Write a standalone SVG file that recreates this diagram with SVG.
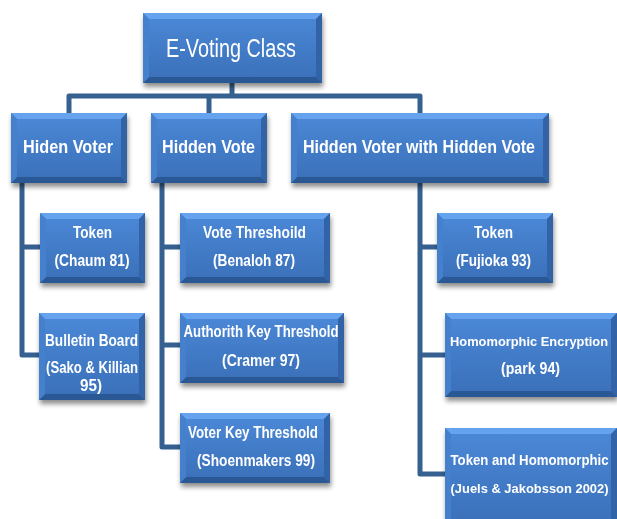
<svg xmlns="http://www.w3.org/2000/svg" width="617" height="519" viewBox="0 0 617 519">
<style>
.face{fill:url(#faceg)}
.bt{fill:#66A3EE}
.bb{fill:#2B5895}
.bl{fill:#4480CC}
.br{fill:#3263A6}
.box{filter:url(#sh)}
.t1{font-family:"Liberation Sans",Arial,sans-serif;font-size:26px;fill:#fff;text-anchor:middle}
.t2{font-family:"Liberation Sans",Arial,sans-serif;font-size:19px;font-weight:bold;fill:#fff;text-anchor:middle}
.t3{font-family:"Liberation Sans",Arial,sans-serif;font-size:16px;font-weight:bold;fill:#fff;text-anchor:middle}
.sm{font-size:14px}
.co{fill:none;stroke:#35608F;stroke-width:5;stroke-linejoin:round;stroke-linecap:butt}
</style>
<defs>
<linearGradient id="faceg" x1="0" y1="0" x2="0" y2="1">
<stop offset="0" stop-color="#4B89D8"/>
<stop offset="1" stop-color="#3A6FB8"/>
</linearGradient>
<filter id="sh" x="-10%" y="-10%" width="125%" height="135%">
<feGaussianBlur in="SourceAlpha" stdDeviation="2.5"/>
<feOffset dx="1" dy="4" result="o"/>
<feComponentTransfer><feFuncA type="linear" slope="0.45"/></feComponentTransfer>
<feMerge><feMergeNode/><feMergeNode in="SourceGraphic"/></feMerge>
</filter>
</defs>
<rect width="617" height="519" fill="#fff"/>

<g id="connectors">
<path class="co" d="M232,83V96 M69,113V96H420V113 M209,96V113"/>
<path class="co" d="M22,183V355H39 M22,247H40"/>
<path class="co" d="M162,183V447H180 M162,247H180 M162,345H180"/>
<path class="co" d="M420,183V474H445 M420,247H437 M420,355H445"/>
</g>

<g id="n-evoting" class="box">
<rect class="face" x="143" y="13" width="179" height="70"/>
<polygon class="bt" points="143,13 322,13 316,19 149,19"/>
<polygon class="bb" points="143,83 322,83 316,77 149,77"/>
<polygon class="bl" points="143,13 149,19 149,77 143,83"/>
<polygon class="br" points="322,13 316,19 316,77 322,83"/>
<text class="t1" x="231" y="57" textLength="130" lengthAdjust="spacingAndGlyphs">E-Voting Class</text>
</g>

<g id="n-hiden-voter" class="box">
<rect class="face" x="11" y="113" width="116" height="70"/>
<polygon class="bt" points="11,113 127,113 121,119 17,119"/>
<polygon class="bb" points="11,183 127,183 121,177 17,177"/>
<polygon class="bl" points="11,113 17,119 17,177 11,183"/>
<polygon class="br" points="127,113 121,119 121,177 127,183"/>
<text class="t2" x="68" y="153" textLength="90" lengthAdjust="spacingAndGlyphs">Hiden Voter</text>
</g>

<g id="n-hidden-vote" class="box">
<rect class="face" x="151" y="113" width="116" height="70"/>
<polygon class="bt" points="151,113 267,113 261,119 157,119"/>
<polygon class="bb" points="151,183 267,183 261,177 157,177"/>
<polygon class="bl" points="151,113 157,119 157,177 151,183"/>
<polygon class="br" points="267,113 261,119 261,177 267,183"/>
<text class="t2" x="208.5" y="153" textLength="93" lengthAdjust="spacingAndGlyphs">Hidden Vote</text>
</g>

<g id="n-hvhv" class="box">
<rect class="face" x="291" y="113" width="258" height="70"/>
<polygon class="bt" points="291,113 549,113 543,119 297,119"/>
<polygon class="bb" points="291,183 549,183 543,177 297,177"/>
<polygon class="bl" points="291,113 297,119 297,177 291,183"/>
<polygon class="br" points="549,113 543,119 543,177 549,183"/>
<text class="t2" x="419" y="153" textLength="232" lengthAdjust="spacingAndGlyphs">Hidden Voter with Hidden Vote</text>
</g>

<g id="n-token-chaum" class="box">
<rect class="face" x="40" y="213" width="105" height="70"/>
<polygon class="bt" points="40,213 145,213 139,219 46,219"/>
<polygon class="bb" points="40,283 145,283 139,277 46,277"/>
<polygon class="bl" points="40,213 46,219 46,277 40,283"/>
<polygon class="br" points="145,213 139,219 139,277 145,283"/>
<text class="t3" x="92.5" y="238" textLength="39" lengthAdjust="spacingAndGlyphs">Token</text>
<text class="t3" x="92" y="266" textLength="75" lengthAdjust="spacingAndGlyphs">(Chaum 81)</text>
</g>

<g id="n-bulletin" class="box">
<rect class="face" x="39" y="313" width="106" height="87"/>
<polygon class="bt" points="39,313 145,313 139,319 45,319"/>
<polygon class="bb" points="39,400 145,400 139,394 45,394"/>
<polygon class="bl" points="39,313 45,319 45,394 39,400"/>
<polygon class="br" points="145,313 139,319 139,394 145,400"/>
<text class="t3" x="91.5" y="346" textLength="93" lengthAdjust="spacingAndGlyphs">Bulletin Board</text>
<text class="t3" x="92" y="373" textLength="92" lengthAdjust="spacingAndGlyphs">(Sako &amp; Killian</text>
<text class="t3" x="91" y="391" textLength="22" lengthAdjust="spacingAndGlyphs">95)</text>
</g>

<g id="n-vote-threshold" class="box">
<rect class="face" x="180" y="213" width="150" height="70"/>
<polygon class="bt" points="180,213 330,213 324,219 186,219"/>
<polygon class="bb" points="180,283 330,283 324,277 186,277"/>
<polygon class="bl" points="180,213 186,219 186,277 180,283"/>
<polygon class="br" points="330,213 324,219 324,277 330,283"/>
<text class="t3" x="254.5" y="238" textLength="103" lengthAdjust="spacingAndGlyphs">Vote Threshoild</text>
<text class="t3" x="254" y="266" textLength="82" lengthAdjust="spacingAndGlyphs">(Benaloh 87)</text>
</g>

<g id="n-authority-key" class="box">
<rect class="face" x="180" y="313" width="164" height="70"/>
<polygon class="bt" points="180,313 344,313 338,319 186,319"/>
<polygon class="bb" points="180,383 344,383 338,377 186,377"/>
<polygon class="bl" points="180,313 186,319 186,377 180,383"/>
<polygon class="br" points="344,313 338,319 338,377 344,383"/>
<text class="t3" x="261" y="337" textLength="155" lengthAdjust="spacingAndGlyphs">Authorith Key Threshold</text>
<text class="t3" x="261" y="366" textLength="78" lengthAdjust="spacingAndGlyphs">(Cramer 97)</text>
</g>

<g id="n-voter-key" class="box">
<rect class="face" x="180" y="413" width="150" height="70"/>
<polygon class="bt" points="180,413 330,413 324,419 186,419"/>
<polygon class="bb" points="180,483 330,483 324,477 186,477"/>
<polygon class="bl" points="180,413 186,419 186,477 180,483"/>
<polygon class="br" points="330,413 324,419 324,477 330,483"/>
<text class="t3" x="253" y="438" textLength="130" lengthAdjust="spacingAndGlyphs">Voter Key Threshold</text>
<text class="t3" x="256" y="466" textLength="118" lengthAdjust="spacingAndGlyphs">(Shoenmakers 99)</text>
</g>

<g id="n-token-fujioka" class="box">
<rect class="face" x="437" y="213" width="116" height="70"/>
<polygon class="bt" points="437,213 553,213 547,219 443,219"/>
<polygon class="bb" points="437,283 553,283 547,277 443,277"/>
<polygon class="bl" points="437,213 443,219 443,277 437,283"/>
<polygon class="br" points="553,213 547,219 547,277 553,283"/>
<text class="t3" x="493.5" y="238" textLength="39" lengthAdjust="spacingAndGlyphs">Token</text>
<text class="t3" x="493.5" y="266" textLength="75" lengthAdjust="spacingAndGlyphs">(Fujioka 93)</text>
</g>

<g id="n-homomorphic" class="box">
<rect class="face" x="445" y="313" width="172" height="84"/>
<polygon class="bt" points="445,313 617,313 611,319 451,319"/>
<polygon class="bb" points="445,397 617,397 611,391 451,391"/>
<polygon class="bl" points="445,313 451,319 451,391 445,397"/>
<polygon class="br" points="617,313 611,319 611,391 617,397"/>
<text class="t3" style="font-size:13.5px" x="529" y="346" textLength="158" lengthAdjust="spacingAndGlyphs">Homomorphic Encryption</text>
<text class="t3" x="530.5" y="374" textLength="59" lengthAdjust="spacingAndGlyphs">(park 94)</text>
</g>

<g id="n-token-homomorphic" class="box">
<rect class="face" x="445" y="428" width="172" height="100"/>
<polygon class="bt" points="445,428 617,428 611,434 451,434"/>
<polygon class="bl" points="445,428 451,434 451,528 445,528"/>
<polygon class="br" points="617,428 611,434 611,528 617,528"/>
<text class="t3 sm" x="529.5" y="465" textLength="158" lengthAdjust="spacingAndGlyphs">Token and Homomorphic</text>
<text class="t3" style="font-size:13.5px" x="529.5" y="493" textLength="158" lengthAdjust="spacingAndGlyphs">(Juels &amp; Jakobsson 2002)</text>
</g>
</svg>
